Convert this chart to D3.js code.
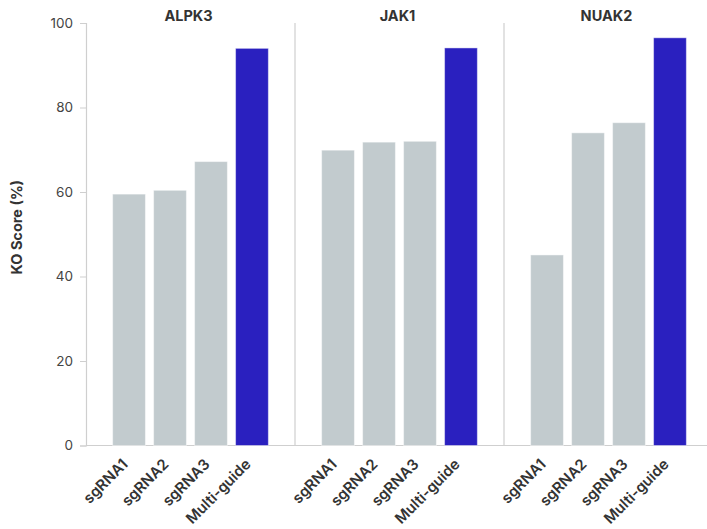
<!DOCTYPE html>
<html><head><meta charset="utf-8">
<script src="https://cdn.jsdelivr.net/npm/d3@7"></script>
<style>body{margin:0;background:#fff;} text{font-family:Inter, "Noto Sans", sans-serif;}</style>
</head><body>
<svg id="chart" width="707" height="529"></svg>
<script>
const genes = ["ALPK3", "JAK1", "NUAK2"];
const guides = ["sgRNA1", "sgRNA2", "sgRNA3", "Multi-guide"];
const alpk3Values = [59.5, 60.4, 67.2, 94.0];
const jak1Values = [69.9, 71.8, 72.0, 94.1];
const nuak2Values = [45.1, 74.0, 76.4, 96.5];
const yTicks = [0, 20, 40, 60, 80, 100];
const yLabel = "KO Score (%)";

const values = {ALPK3: alpk3Values, JAK1: jak1Values, NUAK2: nuak2Values};
const svg = d3.select("#chart");
const m = {left: 86, right: 713, top: 23, bottom: 445.5};

const y = d3.scaleLinear().domain([0, 100]).range([m.bottom, m.top]);
const xPanel = d3.scaleBand().domain(genes).range([m.left, m.right]).padding(0);
const xBar = d3.scaleBand().domain(guides).range([0, xPanel.bandwidth()]).paddingInner(0.2).paddingOuter(0.65);

// y axis
const yAxis = d3.axisLeft(y).tickValues(yTicks).tickSize(6).tickPadding(7);
const ya = svg.append("g").attr("transform", `translate(${m.left},0)`).call(yAxis);
ya.select(".domain").attr("stroke", "#cfcfcf").attr("stroke-width", 1.2);
ya.selectAll(".tick line").attr("stroke", "#cfcfcf");
ya.selectAll(".tick text").attr("fill", "#444").attr("font-size", 13.5);

svg.append("text").attr("transform", `translate(22,${(m.top + m.bottom)/2 - 7}) rotate(-90)`)
  .attr("text-anchor", "middle").attr("font-size", 14.5).attr("font-weight", 700).attr("fill", "#333").text(yLabel);

// baseline
svg.append("line").attr("x1", m.left).attr("x2", m.right).attr("y1", y(0)).attr("y2", y(0))
  .attr("stroke", "#cfcfcf").attr("stroke-width", 1.2);

genes.forEach((g, gi) => {
  const px = xPanel(g);
  const panel = svg.append("g").attr("transform", `translate(${px},0)`);
  if (gi > 0) {
    panel.append("line").attr("x1", 0).attr("x2", 0).attr("y1", m.top).attr("y2", y(0))
      .attr("stroke", "#cfcfcf").attr("stroke-width", 1.2);
  }
  panel.append("text").attr("x", xPanel.bandwidth()/2 - 2).attr("y", 20.5).attr("text-anchor", "middle")
    .attr("font-size", 14.5).attr("font-weight", 700).attr("fill", "#333").text(g);
  panel.selectAll("rect").data(values[g]).enter().append("rect")
    .attr("x", (d, i) => xBar(guides[i]))
    .attr("width", xBar.bandwidth())
    .attr("y", d => y(d))
    .attr("height", d => y(0) - y(d))
    .attr("fill", (d, i) => guides[i] === "Multi-guide" ? "#2a20bf" : "#c2cbce")
    .attr("stroke", "#ffffff").attr("stroke-opacity", 0.45).attr("stroke-width", 1);
  const xa = d3.axisBottom(xBar).tickSize(0).tickPadding(0);
  const ax = panel.append("g").attr("transform", `translate(0,${y(0)})`).call(xa);
  ax.select(".domain").remove();
  ax.selectAll(".tick text")
    .attr("font-size", 15).attr("font-weight", 600).attr("fill", "#333")
    .attr("text-anchor", "end").attr("dy", "0.35em")
    .attr("transform", "translate(-4,16) rotate(-45)");
});
</script>
</body></html>
